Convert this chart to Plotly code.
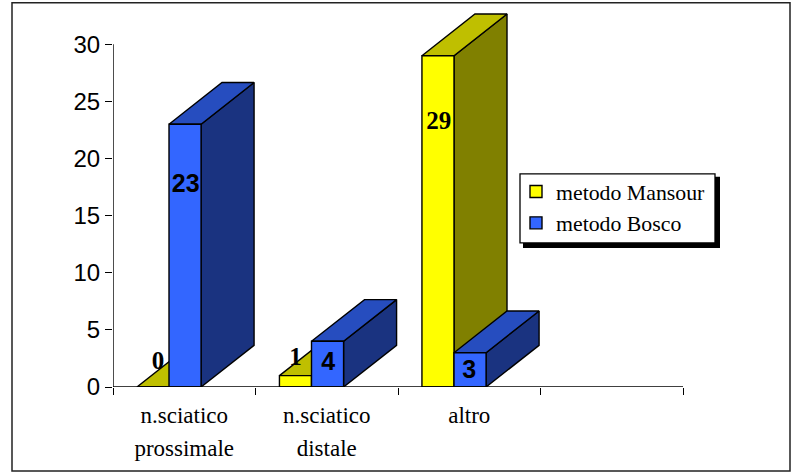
import plotly.graph_objects as go

# Chart data
categories_line1 = ["n.sciatico", "n.sciatico", "altro"]
categories_line2 = ["prossimale", "distale", ""]
mansour = [0, 1, 29]
bosco = [23, 4, 3]
tick_values_y = [0, 5, 10, 15, 20, 25, 30]

# Where the value labels sit: height in axis units, sideways nudge in category widths
mansour_label_y = [2.1, 2.5, 23.1]
mansour_label_dx = [0.035, 0.0, 0.005]
bosco_label_y = [17.65, 2.05, 1.35]
bosco_label_dx = [0.005, 0.005, -0.005]

# Box geometry, in category widths and axis units
BAR_W = 0.225
MANSOUR_LEFT = 0.168
BOSCO_LEFT = 0.393
DEPTH_X = 0.372
DEPTH_Y = 3.65

Y_AXIS_TOP = 30
Y_RANGE_TOP = 33  # head room for the depth of the tallest box
X_RANGE = [0, 4]

W, H = 798, 474
ML, MR, MB = 113, 115, 87
PLOT_H = 342.5 * Y_RANGE_TOP / Y_AXIS_TOP
MT = H - MB - PLOT_H
PLOT_W = W - ML - MR


def paper_x(x):
    return (x - ML) / PLOT_W


def paper_y(y):
    return (H - MB - y) / PLOT_H


def side_face(values, left):
    xs, ys = [], []
    for i, v in enumerate(values):
        r = i + left + BAR_W
        xs += [r, r + DEPTH_X, r + DEPTH_X, r, r, None]
        ys += [0, DEPTH_Y, v + DEPTH_Y, v, 0, None]
    return xs, ys


def top_face(values, left):
    xs, ys = [], []
    for i, v in enumerate(values):
        l = i + left
        r = l + BAR_W
        xs += [l, r, r + DEPTH_X, l + DEPTH_X, l, None]
        ys += [v, v, v + DEPTH_Y, v + DEPTH_Y, v, None]
    return xs, ys


def face(xy, color, z):
    return go.Scatter(
        x=xy[0], y=xy[1], mode="lines", fill="toself", fillcolor=color,
        line=dict(color="black", width=1.4),
        showlegend=False, hoverinfo="skip", zorder=z,
    )


def front(name, values, left, color, z):
    return go.Bar(
        name=name, x=[i + 0.5 for i in range(len(values))], y=values,
        width=BAR_W, offset=left - 0.5,
        marker=dict(color=color, line=dict(color="black", width=1.4)),
        legendgroup=name, hoverinfo="skip", zorder=z,
    )


def labels(values, ys, nudges, left, family, size):
    return go.Scatter(
        x=[i + left + BAR_W / 2 + d for i, d in enumerate(nudges)], y=ys, mode="text",
        text=[str(v) for v in values], textposition="middle center",
        textfont=dict(family=family, size=size, color="black", weight="bold"),
        showlegend=False, hoverinfo="skip", zorder=5,
    )


fig = go.Figure()
fig.add_trace(face(side_face(mansour, MANSOUR_LEFT), "#808000", 0))
fig.add_trace(face(top_face(mansour, MANSOUR_LEFT), "#BFBF00", 0))
fig.add_trace(front("metodo Mansour", mansour, MANSOUR_LEFT, "#FFFF00", 1))
fig.add_trace(face(side_face(bosco, BOSCO_LEFT), "#1A3380", 2))
fig.add_trace(face(top_face(bosco, BOSCO_LEFT), "#264DBF", 2))
fig.add_trace(front("metodo Bosco", bosco, BOSCO_LEFT, "#3366FF", 3))
fig.add_trace(labels(mansour, mansour_label_y, mansour_label_dx, MANSOUR_LEFT, "Liberation Serif", 25))
fig.add_trace(labels(bosco, bosco_label_y, bosco_label_dx, BOSCO_LEFT, "Liberation Sans", 25))

# Empty traces keep the two label axes alive
for axis in ("x2", "x3"):
    fig.add_trace(go.Scatter(x=[None], y=[None], xaxis=axis, yaxis="y", showlegend=False, hoverinfo="skip"))

centers = [i + 0.5 for i in range(len(categories_line1))]
label_font = dict(family="Liberation Serif", size=23, color="black")
axis_line = dict(color="black", width=1.4)

fig.update_layout(
    width=W, height=H, autosize=False,
    margin=dict(l=ML, r=MR, t=MT, b=MB, pad=0),
    paper_bgcolor="white", plot_bgcolor="white",
    barmode="overlay", hovermode=False,
    xaxis=dict(
        range=X_RANGE, tickmode="array", tickvals=[0, 1, 2, 3, 4], ticktext=[""] * 5,
        ticks="outside", ticklen=7, tickwidth=1.3, tickcolor="black",
        showline=False, showgrid=False, zeroline=False,
    ),
    xaxis2=dict(
        range=X_RANGE, overlaying="x", anchor="y", side="bottom", tickmode="array",
        tickvals=centers, ticktext=categories_line1, ticks="", tickfont=label_font,
        ticklabelstandoff=12, showline=False, showgrid=False, zeroline=False,
    ),
    xaxis3=dict(
        range=X_RANGE, overlaying="x", anchor="y", side="bottom", tickmode="array",
        tickvals=centers, ticktext=categories_line2, ticks="", tickfont=label_font,
        ticklabelstandoff=45, showline=False, showgrid=False, zeroline=False,
    ),
    yaxis=dict(
        range=[0, Y_RANGE_TOP], tickmode="array", tickvals=tick_values_y,
        ticks="outside", ticklen=7, tickwidth=1.3, tickcolor="black",
        tickfont=dict(family="Liberation Sans", size=24, color="black"),
        showline=False, showgrid=False, zeroline=False,
    ),
    legend=dict(
        x=paper_x(516), y=paper_y(171), xanchor="left", yanchor="top",
        bgcolor="rgba(0,0,0,0)", borderwidth=0,
        font=dict(family="Liberation Serif", size=21.8, color="black"),
        traceorder="normal", tracegroupgap=5, itemclick=False, itemdoubleclick=False,
    ),
    shapes=[
        # Outer frame
        dict(type="rect", xref="paper", yref="paper", layer="below",
             x0=paper_x(12), x1=paper_x(790), y0=paper_y(471), y1=paper_y(3),
             line=dict(color="#222222", width=1.5), fillcolor="white"),
        # Axis lines stop at the last tick, below the head room
        dict(type="line", xref="x", yref="y", layer="above", x0=0, x1=0, y0=0, y1=Y_AXIS_TOP, line=axis_line),
        dict(type="line", xref="x", yref="y", layer="above", x0=X_RANGE[0], x1=X_RANGE[1], y0=0, y1=0, line=axis_line),
        # Legend box with its drop shadow
        dict(type="rect", xref="paper", yref="paper", layer="above",
             x0=paper_x(523), x1=paper_x(720), y0=paper_y(248), y1=paper_y(177),
             line=dict(width=0), fillcolor="black"),
        dict(type="rect", xref="paper", yref="paper", layer="above",
             x0=paper_x(520), x1=paper_x(715), y0=paper_y(243), y1=paper_y(174),
             line=dict(color="black", width=1.3), fillcolor="white"),
    ],
)

fig.write_html("out.html", config=dict(displayModeBar=False))
